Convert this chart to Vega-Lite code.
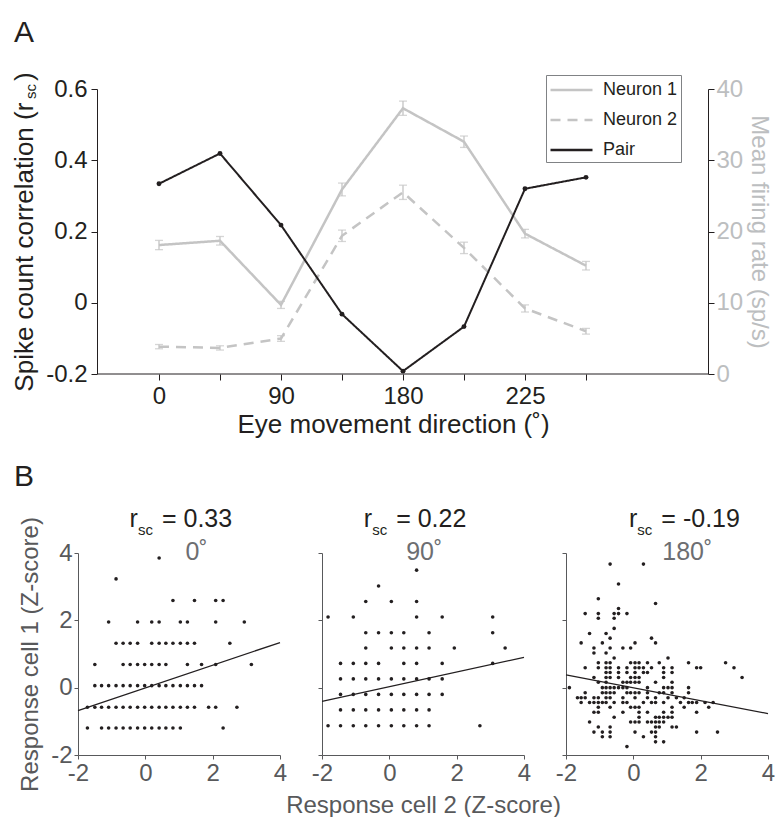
{
"$schema": "https://vega.github.io/schema/vega-lite/v6.json",
"background": "white",
"padding": {"left": 11, "top": 17, "right": 0, "bottom": 0},
"config": {
  "font": "Liberation Sans",
  "view": {"stroke": null},
  "axis": {"grid": false, "labelFont": "Liberation Sans", "titleFont": "Liberation Sans", "titleFontWeight": "normal", "domainWidth": 1, "tickWidth": 1},
  "title": {"fontWeight": "normal", "font": "Liberation Sans"}
},
"datasets": {
  "pair": [
    {"dir": 0, "series": "Pair", "rsc": 0.334},
    {"dir": 45, "series": "Pair", "rsc": 0.419},
    {"dir": 90, "series": "Pair", "rsc": 0.218},
    {"dir": 135, "series": "Pair", "rsc": -0.032},
    {"dir": 180, "series": "Pair", "rsc": -0.192},
    {"dir": 225, "series": "Pair", "rsc": -0.067},
    {"dir": 270, "series": "Pair", "rsc": 0.32},
    {"dir": 315, "series": "Pair", "rsc": 0.352}
  ],
  "neurons": [
    {"dir": 0, "series": "Neuron 1", "rate": 18.1, "lo": 17.45, "hi": 18.75},
    {"dir": 45, "series": "Neuron 1", "rate": 18.7, "lo": 18.1, "hi": 19.3},
    {"dir": 90, "series": "Neuron 1", "rate": 9.7, "lo": 9.2, "hi": 10.2},
    {"dir": 135, "series": "Neuron 1", "rate": 25.9, "lo": 25.0, "hi": 26.8},
    {"dir": 180, "series": "Neuron 1", "rate": 37.3, "lo": 36.3, "hi": 38.3},
    {"dir": 225, "series": "Neuron 1", "rate": 32.6, "lo": 31.8, "hi": 33.4},
    {"dir": 270, "series": "Neuron 1", "rate": 19.7, "lo": 19.1, "hi": 20.3},
    {"dir": 315, "series": "Neuron 1", "rate": 15.2, "lo": 14.6, "hi": 15.8},
    {"dir": 0, "series": "Neuron 2", "rate": 3.84, "lo": 3.54, "hi": 4.14},
    {"dir": 45, "series": "Neuron 2", "rate": 3.66, "lo": 3.36, "hi": 3.96},
    {"dir": 90, "series": "Neuron 2", "rate": 4.98, "lo": 4.58, "hi": 5.38},
    {"dir": 135, "series": "Neuron 2", "rate": 19.4, "lo": 18.6, "hi": 20.2},
    {"dir": 180, "series": "Neuron 2", "rate": 25.5, "lo": 24.5, "hi": 26.5},
    {"dir": 225, "series": "Neuron 2", "rate": 17.7, "lo": 16.9, "hi": 18.5},
    {"dir": 270, "series": "Neuron 2", "rate": 9.2, "lo": 8.7, "hi": 9.7},
    {"dir": 315, "series": "Neuron 2", "rate": 6.0, "lo": 5.6, "hi": 6.4}
  ],
  "fit0": [{"x": -2, "y": -0.68}, {"x": 4, "y": 1.34}],
  "fit90": [{"x": -2, "y": -0.41}, {"x": 4, "y": 0.9}],
  "fit180": [{"x": -2, "y": 0.38}, {"x": 4, "y": -0.77}],
  "s0": [
    {"x":0.41,"y":3.85},{"x":-0.87,"y":3.23},
    {"x":0.82,"y":2.59},{"x":1.46,"y":2.59},{"x":2.09,"y":2.59},{"x":2.31,"y":2.59},
    {"x":-1.09,"y":1.95},{"x":-0.23,"y":1.95},{"x":0.19,"y":1.95},{"x":0.41,"y":1.95},{"x":1.04,"y":1.95},{"x":1.25,"y":1.95},{"x":2.09,"y":1.95},{"x":2.94,"y":1.95},
    {"x":-0.87,"y":1.32},{"x":-0.66,"y":1.32},{"x":-0.45,"y":1.32},{"x":-0.23,"y":1.32},{"x":0.19,"y":1.32},{"x":0.41,"y":1.32},{"x":0.61,"y":1.32},{"x":0.82,"y":1.32},{"x":1.04,"y":1.32},{"x":1.25,"y":1.32},{"x":1.46,"y":1.32},{"x":2.51,"y":1.32},
    {"x":-1.5,"y":0.69},{"x":-0.66,"y":0.69},{"x":-0.45,"y":0.69},{"x":-0.23,"y":0.69},{"x":-0.02,"y":0.69},{"x":0.19,"y":0.69},{"x":0.41,"y":0.69},{"x":0.61,"y":0.69},{"x":1.25,"y":0.69},{"x":1.67,"y":0.69},{"x":2.09,"y":0.69},{"x":3.15,"y":0.69},
    {"x":-1.5,"y":0.06},{"x":-1.3,"y":0.06},{"x":-1.09,"y":0.06},{"x":-0.87,"y":0.06},{"x":-0.66,"y":0.06},{"x":-0.45,"y":0.06},{"x":-0.23,"y":0.06},{"x":-0.02,"y":0.06},{"x":0.19,"y":0.06},{"x":0.41,"y":0.06},{"x":0.61,"y":0.06},{"x":0.82,"y":0.06},{"x":1.04,"y":0.06},{"x":1.25,"y":0.06},{"x":1.46,"y":0.06},{"x":1.67,"y":0.06},
    {"x":-1.72,"y":-0.58},{"x":-1.5,"y":-0.58},{"x":-1.3,"y":-0.58},{"x":-1.09,"y":-0.58},{"x":-0.87,"y":-0.58},{"x":-0.66,"y":-0.58},{"x":-0.45,"y":-0.58},{"x":-0.23,"y":-0.58},{"x":-0.02,"y":-0.58},{"x":0.19,"y":-0.58},{"x":0.41,"y":-0.58},{"x":0.61,"y":-0.58},{"x":0.82,"y":-0.58},{"x":1.04,"y":-0.58},{"x":1.25,"y":-0.58},{"x":1.46,"y":-0.58},{"x":1.88,"y":-0.58},{"x":2.09,"y":-0.58},{"x":2.72,"y":-0.58},
    {"x":-1.72,"y":-1.2},{"x":-1.3,"y":-1.2},{"x":-1.09,"y":-1.2},{"x":-0.87,"y":-1.2},{"x":-0.66,"y":-1.2},{"x":-0.45,"y":-1.2},{"x":-0.23,"y":-1.2},{"x":-0.02,"y":-1.2},{"x":0.19,"y":-1.2},{"x":0.41,"y":-1.2},{"x":0.61,"y":-1.2},{"x":0.82,"y":-1.2},{"x":1.04,"y":-1.2},{"x":2.31,"y":-1.2}
  ],
  "s90": [
    {"x":0.81,"y":3.49},{"x":-0.32,"y":3.02},
    {"x":-0.7,"y":2.56},{"x":0.06,"y":2.56},{"x":0.81,"y":2.56},
    {"x":-1.82,"y":2.1},{"x":-1.07,"y":2.1},{"x":0.81,"y":2.1},{"x":1.57,"y":2.1},{"x":3.07,"y":2.1},
    {"x":-0.7,"y":1.63},{"x":-0.32,"y":1.63},{"x":0.06,"y":1.63},{"x":0.43,"y":1.63},{"x":1.18,"y":1.63},{"x":3.07,"y":1.63},
    {"x":-0.7,"y":1.18},{"x":0.06,"y":1.18},{"x":0.43,"y":1.18},{"x":0.81,"y":1.18},{"x":1.18,"y":1.18},{"x":1.93,"y":1.18},{"x":3.44,"y":1.18},
    {"x":-1.45,"y":0.72},{"x":-1.07,"y":0.72},{"x":-0.7,"y":0.72},{"x":-0.32,"y":0.72},{"x":0.43,"y":0.72},{"x":0.81,"y":0.72},{"x":1.57,"y":0.72},{"x":3.07,"y":0.72},
    {"x":-1.45,"y":0.26},{"x":-1.07,"y":0.26},{"x":-0.7,"y":0.26},{"x":-0.32,"y":0.26},{"x":0.06,"y":0.26},{"x":0.43,"y":0.26},{"x":0.81,"y":0.26},{"x":1.18,"y":0.26},{"x":1.57,"y":0.26},
    {"x":-1.45,"y":-0.2},{"x":-1.07,"y":-0.2},{"x":-0.7,"y":-0.2},{"x":-0.32,"y":-0.2},{"x":0.06,"y":-0.2},{"x":0.43,"y":-0.2},{"x":0.81,"y":-0.2},{"x":1.18,"y":-0.2},{"x":1.57,"y":-0.2},
    {"x":-1.45,"y":-0.66},{"x":-1.07,"y":-0.66},{"x":-0.7,"y":-0.66},{"x":-0.32,"y":-0.66},{"x":0.06,"y":-0.66},{"x":0.43,"y":-0.66},{"x":0.81,"y":-0.66},{"x":1.18,"y":-0.66},
    {"x":-1.82,"y":-1.13},{"x":-1.45,"y":-1.13},{"x":-1.07,"y":-1.13},{"x":-0.7,"y":-1.13},{"x":-0.32,"y":-1.13},{"x":0.06,"y":-1.13},{"x":0.43,"y":-1.13},{"x":0.81,"y":-1.13},{"x":1.18,"y":-1.13},{"x":2.69,"y":-1.13}
  ],
  "s180": [
    {"x":-0.69,"y":3.67},{"x":0.3,"y":3.67},
    {"x":-0.44,"y":3.08},
    {"x":-1.04,"y":2.64},
    {"x":0.66,"y":2.5},
    {"x":-0.44,"y":2.35},
    {"x":-1.43,"y":2.2},{"x":-1.04,"y":2.2},{"x":-0.57,"y":2.2},{"x":-0.44,"y":2.2},{"x":-0.19,"y":2.2},
    {"x":-1.04,"y":2.06},{"x":-0.57,"y":2.06},
    {"x":-0.57,"y":1.76},
    {"x":-1.3,"y":1.61},{"x":-0.81,"y":1.61},
    {"x":-0.69,"y":1.47},{"x":0.54,"y":1.47},
    {"x":-1.55,"y":1.33},{"x":-0.92,"y":1.33},{"x":0.05,"y":1.33},{"x":0.66,"y":1.33},
    {"x":-1.17,"y":1.18},{"x":-0.69,"y":1.18},{"x":-0.31,"y":1.18},{"x":-0.08,"y":1.18},
    {"x":-1.17,"y":1.03},{"x":-0.81,"y":1.03},
    {"x":-0.57,"y":0.88},{"x":1.03,"y":0.88},
    {"x":-1.04,"y":0.74},{"x":-0.81,"y":0.74},{"x":-0.69,"y":0.74},{"x":-0.08,"y":0.74},{"x":0.05,"y":0.74},{"x":0.17,"y":0.74},{"x":0.42,"y":0.74},{"x":0.77,"y":0.74},{"x":1.64,"y":0.74},{"x":2.74,"y":0.74},
    {"x":-1.43,"y":0.59},{"x":-1.04,"y":0.59},{"x":-0.81,"y":0.59},{"x":-0.69,"y":0.59},{"x":-0.44,"y":0.59},{"x":-0.19,"y":0.59},{"x":0.05,"y":0.59},{"x":0.17,"y":0.59},{"x":0.3,"y":0.59},{"x":0.54,"y":0.59},{"x":0.9,"y":0.59},{"x":1.15,"y":0.59},{"x":1.88,"y":0.59},{"x":2.0,"y":0.59},{"x":2.99,"y":0.59},
    {"x":-0.81,"y":0.45},{"x":-0.69,"y":0.45},{"x":-0.44,"y":0.45},{"x":-0.19,"y":0.45},{"x":0.05,"y":0.45},{"x":0.3,"y":0.45},{"x":0.42,"y":0.45},{"x":0.9,"y":0.45},{"x":1.15,"y":0.45},
    {"x":-1.17,"y":0.3},{"x":-0.81,"y":0.3},{"x":-0.69,"y":0.3},{"x":-0.44,"y":0.3},{"x":-0.08,"y":0.3},{"x":0.05,"y":0.3},{"x":0.17,"y":0.3},{"x":0.9,"y":0.3},{"x":3.23,"y":0.3},
    {"x":-1.04,"y":0.16},{"x":-0.81,"y":0.16},{"x":-0.31,"y":0.16},{"x":-0.19,"y":0.16},{"x":-0.08,"y":0.16},{"x":0.05,"y":0.16},{"x":0.17,"y":0.16},{"x":0.66,"y":0.16},{"x":1.15,"y":0.16},
    {"x":-1.9,"y":0.0},{"x":-0.92,"y":0.0},{"x":-0.81,"y":0.0},{"x":-0.69,"y":0.0},{"x":-0.57,"y":0.0},{"x":-0.44,"y":0.0},{"x":-0.31,"y":0.0},{"x":-0.19,"y":0.0},{"x":0.42,"y":0.0},{"x":0.9,"y":0.0},{"x":1.03,"y":0.0},{"x":1.15,"y":0.0},{"x":1.64,"y":0.0},
    {"x":-1.43,"y":-0.15},{"x":-0.92,"y":-0.15},{"x":-0.81,"y":-0.15},{"x":-0.69,"y":-0.15},{"x":-0.57,"y":-0.15},{"x":-0.19,"y":-0.15},{"x":-0.08,"y":-0.15},{"x":0.05,"y":-0.15},{"x":0.17,"y":-0.15},{"x":0.42,"y":-0.15},{"x":0.77,"y":-0.15},{"x":0.9,"y":-0.15},{"x":1.15,"y":-0.15},{"x":1.64,"y":-0.15},
    {"x":-1.66,"y":-0.3},{"x":-1.55,"y":-0.3},{"x":-1.43,"y":-0.3},{"x":-1.17,"y":-0.3},{"x":-1.04,"y":-0.3},{"x":-0.81,"y":-0.3},{"x":-0.69,"y":-0.3},{"x":-0.31,"y":-0.3},{"x":0.05,"y":-0.3},{"x":0.42,"y":-0.3},{"x":0.66,"y":-0.3},{"x":1.03,"y":-0.3},{"x":1.28,"y":-0.3},{"x":1.51,"y":-0.3},
    {"x":-1.55,"y":-0.44},{"x":-1.3,"y":-0.44},{"x":-1.17,"y":-0.44},{"x":-1.04,"y":-0.44},{"x":-0.92,"y":-0.44},{"x":-0.81,"y":-0.44},{"x":-0.57,"y":-0.44},{"x":-0.31,"y":-0.44},{"x":-0.19,"y":-0.44},{"x":0.3,"y":-0.44},{"x":0.54,"y":-0.44},{"x":0.66,"y":-0.44},{"x":0.9,"y":-0.44},{"x":1.4,"y":-0.44},{"x":1.64,"y":-0.44},{"x":1.75,"y":-0.44},{"x":1.88,"y":-0.44},{"x":2.13,"y":-0.44},{"x":2.37,"y":-0.44},
    {"x":-1.04,"y":-0.58},{"x":-0.69,"y":-0.58},{"x":-0.08,"y":-0.58},{"x":0.05,"y":-0.58},{"x":0.17,"y":-0.58},{"x":1.15,"y":-0.58},{"x":1.51,"y":-0.58},{"x":2.24,"y":-0.58},
    {"x":-1.17,"y":-0.73},{"x":-1.04,"y":-0.73},{"x":-0.31,"y":-0.73},{"x":0.17,"y":-0.73},{"x":0.42,"y":-0.73},{"x":0.9,"y":-0.73},{"x":1.15,"y":-0.73},{"x":1.88,"y":-0.73},
    {"x":-0.57,"y":-0.88},{"x":0.17,"y":-0.88},{"x":0.66,"y":-0.88},{"x":0.77,"y":-0.88},{"x":0.9,"y":-0.88},{"x":1.03,"y":-0.88},{"x":1.15,"y":-0.88},
    {"x":-1.3,"y":-1.02},{"x":-0.08,"y":-1.02},{"x":0.05,"y":-1.02},{"x":0.17,"y":-1.02},{"x":0.42,"y":-1.02},{"x":0.54,"y":-1.02},{"x":0.66,"y":-1.02},{"x":0.77,"y":-1.02},{"x":0.9,"y":-1.02},
    {"x":-1.04,"y":-1.17},{"x":-0.69,"y":-1.17},{"x":0.66,"y":-1.17},{"x":0.77,"y":-1.17},{"x":1.15,"y":-1.17},{"x":1.28,"y":-1.17},
    {"x":-1.17,"y":-1.32},{"x":-0.92,"y":-1.32},{"x":-0.69,"y":-1.32},{"x":0.05,"y":-1.32},{"x":0.54,"y":-1.32},{"x":0.66,"y":-1.32},{"x":1.88,"y":-1.32},{"x":2.5,"y":-1.32},
    {"x":-0.92,"y":-1.46},{"x":-0.69,"y":-1.46},{"x":0.3,"y":-1.46},{"x":0.66,"y":-1.46},
    {"x":0.66,"y":-1.61},{"x":0.9,"y":-1.61},
    {"x":-0.19,"y":-1.75}
  ]
},
"vconcat": [
  {
    "title": {"text": "A", "fontSize": 30, "anchor": "start", "frame": "group", "dx": -64, "offset": 0, "baseline": "alphabetic", "color": "#231f20"},
    "width": 630,
    "height": 285,
    "resolve": {"scale": {"y": "independent"}},
    "layer": [
      {
        "data": {"name": "neurons"},
        "layer": [
          {
            "mark": {"type": "errorbar", "color": "#c4c4c4", "thickness": 1.3, "ticks": {"size": 8, "color": "#c4c4c4"}},
            "encoding": {
              "x": {"field": "dir", "type": "quantitative", "scale": {"domain": [-59.75, 405], "nice": false, "zero": false},
                "axis": {"values": [0, 45, 90, 135, 180, 225, 270, 315], "labelExpr": "datum.value==0?'0':datum.value==90?'90':datum.value==180?'180':datum.value==270?'225':''", "title": "Eye movement direction (˚)", "domain": false, "labelFontSize": 24, "titleFontSize": 26, "labelColor": "#231f20", "titleColor": "#231f20", "tickColor": "#231f20", "tickSize": 6, "labelPadding": 4, "titlePadding": 3, "labelFlush": false, "grid": false}},
              "y": {"field": "lo", "type": "quantitative", "scale": {"domain": [0, 40], "nice": false},
                "axis": {"orient": "right", "values": [0, 10, 20, 30, 40], "title": "Mean firing rate (sp/s)", "labelFontSize": 24, "titleFontSize": 24, "labelColor": "#bcbec0", "titleColor": "#bcbec0", "domainColor": "#231f20", "tickColor": "#231f20", "tickSize": 6, "labelPadding": 2, "titlePadding": 4, "grid": false}},
              "y2": {"field": "hi"}
            }
          },
          {
            "mark": {"type": "line", "strokeWidth": 2.5},
            "encoding": {
              "x": {"field": "dir", "type": "quantitative"},
              "y": {"field": "rate", "type": "quantitative",
                "axis": {"orient": "right", "values": [0, 10, 20, 30, 40], "title": "Mean firing rate (sp/s)", "labelFontSize": 24, "titleFontSize": 24, "labelColor": "#bcbec0", "titleColor": "#bcbec0", "domainColor": "#231f20", "tickColor": "#231f20", "tickSize": 6, "labelPadding": 2, "titlePadding": 4, "grid": false}},
              "color": {"field": "series", "type": "nominal", "scale": {"domain": ["Neuron 1", "Neuron 2", "Pair"], "range": ["#c4c4c4", "#c4c4c4", "#231f20"]},
                "legend": {"title": null, "orient": "none", "legendX": 468, "legendY": -14, "symbolType": "M-1,0H3", "symbolSize": 441, "symbolStrokeWidth": 2.5, "labelFontSize": 18, "labelColor": "#231f20", "labelFont": "Liberation Sans", "strokeColor": "#808285", "fillColor": "white", "padding": 3, "rowPadding": 9, "labelOffset": 30}},
              "strokeDash": {"field": "series", "type": "nominal", "scale": {"domain": ["Neuron 1", "Neuron 2", "Pair"], "range": [[1, 0], [10, 7], [1, 0]]},
                "legend": {"title": null, "orient": "none", "legendX": 468, "legendY": -14, "symbolType": "M-1,0H3", "symbolSize": 441, "symbolStrokeWidth": 2.5, "labelFontSize": 18, "labelColor": "#231f20", "labelFont": "Liberation Sans", "strokeColor": "#808285", "fillColor": "white", "padding": 3, "rowPadding": 9, "labelOffset": 30}}
            }
          }
        ]
      },
      {
        "data": {"name": "pair"},
        "layer": [
          {
            "mark": {"type": "line", "strokeWidth": 2},
            "encoding": {
              "x": {"field": "dir", "type": "quantitative"},
              "y": {"field": "rsc", "type": "quantitative", "scale": {"domain": [-0.2, 0.6], "nice": false, "zero": false},
                "axis": {"orient": "left", "offset": -19, "values": [-0.2, 0, 0.2, 0.4, 0.6], "labelExpr": "datum.value==0?'0':(datum.value<0?'-':'')+format(abs(datum.value),'.1f')", "title": "Spike count correlation (r\u00a0\u00a0\u00a0)", "labelFontSize": 24, "titleFontSize": 26, "labelColor": "#231f20", "titleColor": "#231f20", "domainColor": "#231f20", "tickColor": "#231f20", "tickSize": 6, "labelPadding": 4, "titlePadding": 8, "grid": false}},
              "color": {"field": "series", "type": "nominal", "scale": {"domain": ["Neuron 1", "Neuron 2", "Pair"], "range": ["#c4c4c4", "#c4c4c4", "#231f20"]},
                "legend": {"title": null, "orient": "none", "legendX": 468, "legendY": -14, "symbolType": "M-1,0H3", "symbolSize": 441, "symbolStrokeWidth": 2.5, "labelFontSize": 18, "labelColor": "#231f20", "labelFont": "Liberation Sans", "strokeColor": "#808285", "fillColor": "white", "padding": 3, "rowPadding": 9, "labelOffset": 30}},
              "strokeDash": {"field": "series", "type": "nominal", "scale": {"domain": ["Neuron 1", "Neuron 2", "Pair"], "range": [[1, 0], [10, 7], [1, 0]]},
                "legend": {"title": null, "orient": "none", "legendX": 468, "legendY": -14, "symbolType": "M-1,0H3", "symbolSize": 441, "symbolStrokeWidth": 2.5, "labelFontSize": 18, "labelColor": "#231f20", "labelFont": "Liberation Sans", "strokeColor": "#808285", "fillColor": "white", "padding": 3, "rowPadding": 9, "labelOffset": 30}}
            }
          },
          {
            "mark": {"type": "circle", "size": 24, "color": "#231f20", "opacity": 1},
            "encoding": {
              "x": {"field": "dir", "type": "quantitative"},
              "y": {"field": "rsc", "type": "quantitative"}
            }
          },
          {
            "data": {"values": [{}]},
            "mark": {"type": "rule", "color": "#231f20", "strokeWidth": 1},
            "encoding": {"x": {"datum": -45}, "x2": {"datum": 405}, "y": {"datum": -0.2}}
          },
          {
            "data": {"values": [{}]},
            "mark": {"type": "text", "text": "sc", "angle": 270, "align": "left", "baseline": "alphabetic", "fontSize": 15, "color": "#231f20"},
            "encoding": {"x": {"datum": -90.4}, "y": {"datum": 0.572}}
          }
        ]
      }
    ]
  },
  {
    "title": {"text": "B", "fontSize": 30, "anchor": "start", "frame": "group", "dx": -64, "offset": -9, "baseline": "alphabetic", "color": "#231f20"},
    "spacing": 42,
    "bounds": "flush",
    "hconcat": [
      {
        "width": 202, "height": 202,
        "layer": [
          {"data": {"name": "s0"}, "mark": {"type": "circle", "size": 13, "color": "#231f20", "opacity": 1},
           "encoding": {
             "x": {"field": "x", "type": "quantitative", "scale": {"domain": [-2, 4], "nice": false, "zero": false},
               "axis": {"values": [-2, 0, 2, 4], "labelExpr": "datum.value<0?'-'+abs(datum.value):''+datum.value", "title": null, "labelFontSize": 24, "labelColor": "#58595b", "domainColor": "#58595b", "tickColor": "#58595b", "tickSize": 4, "labelPadding": 2, "labelFlush": false, "grid": false}},
             "y": {"field": "y", "type": "quantitative", "scale": {"domain": [-2, 4], "nice": false, "zero": false},
               "axis": {"values": [-2, 0, 2, 4], "labelExpr": "datum.value<0?'-'+abs(datum.value):''+datum.value", "title": "Response cell 1 (Z-score)", "titleFontSize": 24, "titleColor": "#58595b", "titlePadding": 8, "labelFontSize": 24, "labelColor": "#58595b", "domainColor": "#58595b", "tickColor": "#58595b", "tickSize": 4, "labelPadding": 2, "grid": false}}
           }},
          {"data": {"name": "fit0"}, "mark": {"type": "line", "color": "#231f20", "strokeWidth": 1.3},
           "encoding": {"x": {"field": "x", "type": "quantitative"}, "y": {"field": "y", "type": "quantitative"}}},
          {"data": {"values": [{}]}, "mark": {"type": "text", "text": "r", "fontSize": 25, "align": "right", "baseline": "alphabetic", "color": "#231f20"},
           "encoding": {"x": {"datum": -0.22}, "y": {"datum": 4.77}}},
          {"data": {"values": [{}]}, "mark": {"type": "text", "text": "sc", "fontSize": 15, "align": "left", "baseline": "alphabetic", "dy": 8, "color": "#231f20"},
           "encoding": {"x": {"datum": -0.22}, "y": {"datum": 4.77}}},
          {"data": {"values": [{}]}, "mark": {"type": "text", "text": "= 0.33", "fontSize": 25, "align": "left", "baseline": "alphabetic", "dx": 24, "color": "#231f20"},
           "encoding": {"x": {"datum": -0.22}, "y": {"datum": 4.77}}},
          {"data": {"values": [{}]}, "mark": {"type": "text", "text": "0˚", "fontSize": 25, "align": "left", "baseline": "alphabetic", "color": "#6d6e71"},
           "encoding": {"x": {"datum": 1.19}, "y": {"datum": 3.79}}}
        ]
      },
      {
        "width": 202, "height": 202,
        "layer": [
          {"data": {"name": "s90"}, "mark": {"type": "circle", "size": 13, "color": "#231f20", "opacity": 1},
           "encoding": {
             "x": {"field": "x", "type": "quantitative", "scale": {"domain": [-2, 4], "nice": false, "zero": false},
               "axis": {"values": [-2, 0, 2, 4], "labelExpr": "datum.value<0?'-'+abs(datum.value):''+datum.value", "title": "Response cell 2 (Z-score)", "titleFontSize": 24, "titleColor": "#58595b", "titlePadding": 8, "labelFontSize": 24, "labelColor": "#58595b", "domainColor": "#58595b", "tickColor": "#58595b", "tickSize": 4, "labelPadding": 2, "labelFlush": false, "grid": false}},
             "y": {"field": "y", "type": "quantitative", "scale": {"domain": [-2, 4], "nice": false, "zero": false},
               "axis": {"values": [-2, 0, 2, 4], "labels": false, "title": null, "domainColor": "#58595b", "tickColor": "#58595b", "tickSize": 4, "grid": false}}
           }},
          {"data": {"name": "fit90"}, "mark": {"type": "line", "color": "#231f20", "strokeWidth": 1.3},
           "encoding": {"x": {"field": "x", "type": "quantitative"}, "y": {"field": "y", "type": "quantitative"}}},
          {"data": {"values": [{}]}, "mark": {"type": "text", "text": "r", "fontSize": 25, "align": "right", "baseline": "alphabetic", "color": "#231f20"},
           "encoding": {"x": {"datum": -0.51}, "y": {"datum": 4.77}}},
          {"data": {"values": [{}]}, "mark": {"type": "text", "text": "sc", "fontSize": 15, "align": "left", "baseline": "alphabetic", "dy": 8, "color": "#231f20"},
           "encoding": {"x": {"datum": -0.51}, "y": {"datum": 4.77}}},
          {"data": {"values": [{}]}, "mark": {"type": "text", "text": "= 0.22", "fontSize": 25, "align": "left", "baseline": "alphabetic", "dx": 24, "color": "#231f20"},
           "encoding": {"x": {"datum": -0.51}, "y": {"datum": 4.77}}},
          {"data": {"values": [{}]}, "mark": {"type": "text", "text": "90˚", "fontSize": 25, "align": "left", "baseline": "alphabetic", "color": "#6d6e71"},
           "encoding": {"x": {"datum": 0.5}, "y": {"datum": 3.79}}}
        ]
      },
      {
        "width": 202, "height": 202,
        "layer": [
          {"data": {"name": "s180"}, "mark": {"type": "circle", "size": 13, "color": "#231f20", "opacity": 1},
           "encoding": {
             "x": {"field": "x", "type": "quantitative", "scale": {"domain": [-2, 4], "nice": false, "zero": false},
               "axis": {"values": [-2, 0, 2, 4], "labelExpr": "datum.value<0?'-'+abs(datum.value):''+datum.value", "title": null, "labelFontSize": 24, "labelColor": "#58595b", "domainColor": "#58595b", "tickColor": "#58595b", "tickSize": 4, "labelPadding": 2, "labelFlush": false, "grid": false}},
             "y": {"field": "y", "type": "quantitative", "scale": {"domain": [-2, 4], "nice": false, "zero": false},
               "axis": {"values": [-2, 0, 2, 4], "labels": false, "title": null, "domainColor": "#58595b", "tickColor": "#58595b", "tickSize": 4, "grid": false}}
           }},
          {"data": {"name": "fit180"}, "mark": {"type": "line", "color": "#231f20", "strokeWidth": 1.3},
           "encoding": {"x": {"field": "x", "type": "quantitative"}, "y": {"field": "y", "type": "quantitative"}}},
          {"data": {"values": [{}]}, "mark": {"type": "text", "text": "r", "fontSize": 25, "align": "right", "baseline": "alphabetic", "color": "#231f20"},
           "encoding": {"x": {"datum": 0.12}, "y": {"datum": 4.77}}},
          {"data": {"values": [{}]}, "mark": {"type": "text", "text": "sc", "fontSize": 15, "align": "left", "baseline": "alphabetic", "dy": 8, "color": "#231f20"},
           "encoding": {"x": {"datum": 0.12}, "y": {"datum": 4.77}}},
          {"data": {"values": [{}]}, "mark": {"type": "text", "text": "= -0.19", "fontSize": 25, "align": "left", "baseline": "alphabetic", "dx": 24, "color": "#231f20"},
           "encoding": {"x": {"datum": 0.12}, "y": {"datum": 4.77}}},
          {"data": {"values": [{}]}, "mark": {"type": "text", "text": "180˚", "fontSize": 25, "align": "left", "baseline": "alphabetic", "color": "#6d6e71"},
           "encoding": {"x": {"datum": 0.86}, "y": {"datum": 3.79}}}
        ]
      }
    ]
  }
],
"spacing": 25
}
